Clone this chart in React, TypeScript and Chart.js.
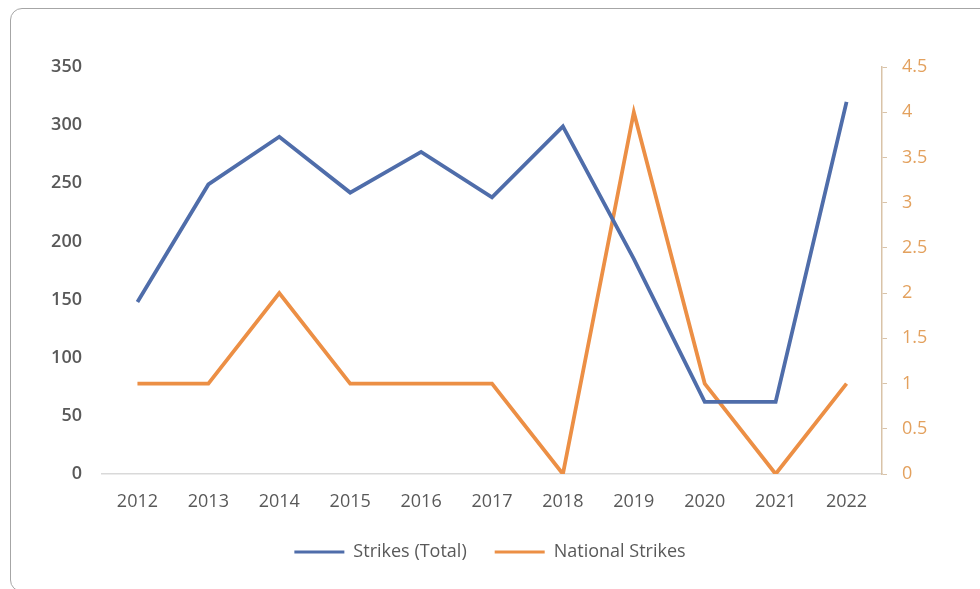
import React, { useEffect, useRef } from "react";
import { Chart, registerables } from "chart.js";

Chart.register(...registerables);

const years = ["2012", "2013", "2014", "2015", "2016", "2017", "2018", "2019", "2020", "2021", "2022"];
const strikesTotal = [148, 249, 290, 242, 277, 238, 299, 185, 62, 62, 320];
const nationalStrikes = [1, 1, 2, 1, 1, 1, 0, 4, 1, 0, 1];
const leftTicks = [0, 50, 100, 150, 200, 250, 300, 350];
const rightTicks = [0, 0.5, 1, 1.5, 2, 2.5, 3, 3.5, 4, 4.5];

const BLUE = "#4F6DAA";
const ORANGE = "#EC8F45";
const TEXT = "#595959";
const FONT = "'Open Sans', 'Noto Sans', sans-serif";

export default function App() {
  const ref = useRef<HTMLCanvasElement | null>(null);

  useEffect(() => {
    if (!ref.current) return;
    const chart = new Chart(ref.current, {
      type: "line",
      data: {
        labels: years,
        datasets: [
          {
            label: "Strikes (Total)",
            data: strikesTotal,
            borderColor: BLUE,
            backgroundColor: BLUE,
            borderWidth: 3.8,
            pointRadius: 0,
            tension: 0,
            yAxisID: "y",
          },
          {
            label: "National Strikes",
            data: nationalStrikes,
            borderColor: ORANGE,
            backgroundColor: ORANGE,
            borderWidth: 3.8,
            pointRadius: 0,
            tension: 0,
            yAxisID: "y1",
          },
        ],
      },
      options: {
        animation: false,
        responsive: false,
        maintainAspectRatio: false,
        layout: { padding: { left: 0, right: 0, top: 67, bottom: 18 } },
        plugins: {
          tooltip: { enabled: false },
          legend: {
            position: "bottom",
            labels: {
              boxWidth: 50,
              boxHeight: 3,
              padding: 28,
              color: TEXT,
              font: { family: FONT, size: 18 },
              generateLabels: (c: any) =>
                Chart.defaults.plugins.legend.labels.generateLabels(c).map((l: any) => ({ ...l, lineWidth: 0 })),
            },
          },
        },
        scales: {
          x: {
            type: "category",
            offset: true,
            grid: { display: false, drawTicks: false },
            border: { display: true, color: "#D9D9D9", width: 1.5 },
            ticks: { color: TEXT, font: { family: FONT, size: 18 }, padding: 17, maxRotation: 0 },
            afterFit: (s: any) => { s.height = 41; },
          },
          y: {
            position: "left",
            min: 0,
            max: 350,
            afterBuildTicks: (s: any) => { s.ticks = leftTicks.map((v) => ({ value: v })); },
            grid: { display: false, drawTicks: false },
            border: { display: false },
            ticks: { color: TEXT, font: { family: FONT, size: 18, weight: "600" }, padding: 20 },
            afterFit: (s: any) => { s.width = 102; },
          },
          y1: {
            position: "right",
            min: 0,
            max: 4.5,
            afterBuildTicks: (s: any) => { s.ticks = rightTicks.map((v) => ({ value: v })); },
            grid: { display: true, drawOnChartArea: false, drawTicks: true, tickLength: 5, color: "#D9C3A8", lineWidth: 1 },
            border: { display: true, color: "#D9C3A8", width: 1.5 },
            ticks: {
              color: "#E3A15E",
              font: { family: FONT, size: 18 },
              padding: 15,
              callback: (v: any) => String(Number(v)),
            },
            afterFit: (s: any) => { s.width = 98; },
          },
        },
      },
    });
    return () => chart.destroy();
  }, []);

  return (
    <div style={{ position: "fixed", left: 0, top: 0, width: 980, height: 589, background: "#fff", overflow: "hidden" }}>
      <div
        style={{
          position: "absolute",
          left: 10,
          top: 8,
          width: 1000,
          height: 584,
          border: "1.5px solid #A6A6A6",
          borderRadius: 12,
          boxSizing: "border-box",
        }}
      />
      <canvas ref={ref} width={980} height={589} style={{ position: "absolute", left: 0, top: 0, width: 980, height: 589 }} />
    </div>
  );
}
